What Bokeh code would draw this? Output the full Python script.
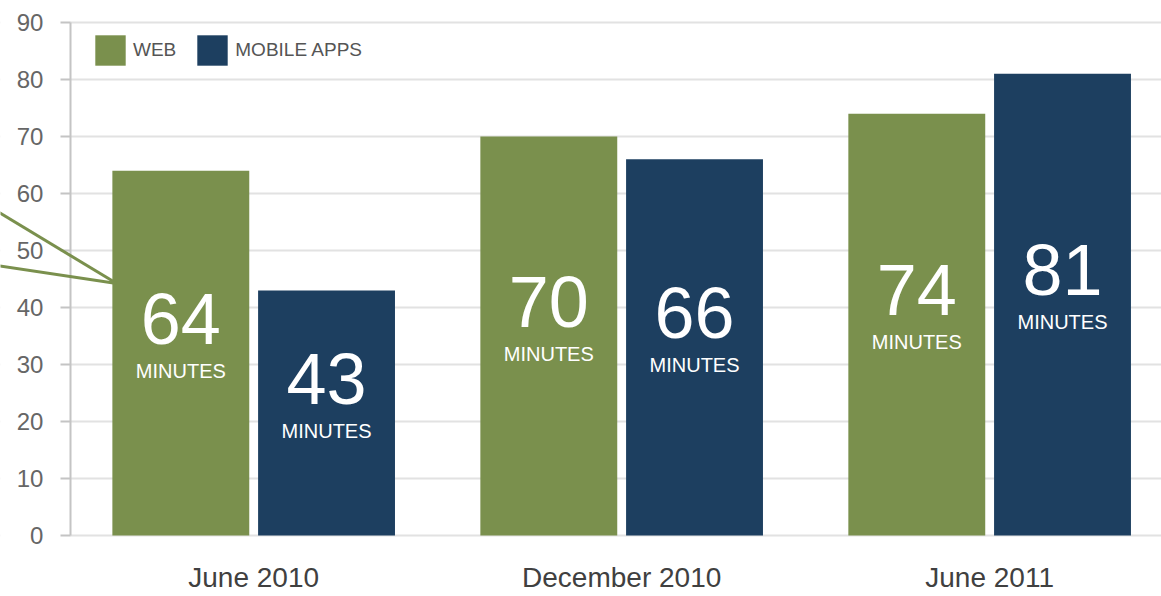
from bokeh.plotting import figure
from bokeh.models import ColumnDataSource, FixedTicker, Legend, LegendItem, Arrow, BoxAnnotation
from bokeh.transform import dodge
from bokeh.core.properties import value
from bokeh.embed import file_html
from bokeh.resources import INLINE

# ---- data ----
periods = ["June 2010", "December 2010", "June 2011"]
web_minutes = [64, 70, 74]
app_minutes = [43, 66, 81]
series_names = ["WEB", "MOBILE APPS"]
unit_label = "MINUTES"
y_ticks = [0, 10, 20, 30, 40, 50, 60, 70, 80, 90]
# callout pointer lines (x in category units, y in minutes)
callout_x = [[-0.70, -0.372], [-0.70, -0.372]]
callout_y = [[57.0, 44.2], [47.4, 44.2]]

FONT = "Liberation Sans"
GREEN = "#7a904d"
NAVY = "#1d3f60"
BAR_W = 0.372
OFF = 0.198
AXIS_X = -0.498

xs = list(range(len(periods)))

# frame spans 8px..548px vertically; 0 at 535px and 90 at 22px
p = figure(width=1161, height=596, x_range=(-0.688, 2.467), y_range=(-2.28, 92.46),
           output_backend="svg", toolbar_location=None,
           min_border_left=0, min_border_right=0, min_border_top=8, min_border_bottom=48)
p.outline_line_color = None
p.background_fill_color = "white"
p.border_fill_color = "white"

def label_y(v):
    return 6 + v / 2.0

src_web = ColumnDataSource(dict(x=xs, top=web_minutes, txt=[str(v) for v in web_minutes],
                                ly=[label_y(v) for v in web_minutes]))
src_app = ColumnDataSource(dict(x=xs, top=app_minutes, txt=[str(v) for v in app_minutes],
                                ly=[label_y(v) for v in app_minutes]))

# white mask hiding grid lines left of the axis
p.add_layout(BoxAnnotation(right=AXIS_X, fill_color="white", fill_alpha=1.0,
                           line_color=None, level="glyph"))

r_web = p.vbar(x=dodge("x", -OFF, range=p.x_range), top="top", bottom=0, width=BAR_W,
               source=src_web, fill_color=GREEN, line_color=None)
r_app = p.vbar(x=dodge("x", OFF, range=p.x_range), top="top", bottom=0, width=BAR_W,
               source=src_app, fill_color=NAVY, line_color=None)

for src, off in ((src_web, -OFF), (src_app, OFF)):
    p.text(x=dodge("x", off, range=p.x_range), y="ly", text="txt", source=src,
           text_align="center", text_baseline="middle", text_color="white",
           text_font=value(FONT), text_font_size="72px")
    p.text(x=dodge("x", off, range=p.x_range), y="ly", text=value(unit_label), source=src,
           y_offset=52, text_align="center", text_baseline="middle", text_color="white",
           text_font=value(FONT), text_font_size="20px")

for cx, cy in zip(callout_x, callout_y):
    p.add_layout(Arrow(end=None, x_start=cx[0], y_start=cy[0], x_end=cx[1], y_end=cy[1],
                       line_color=GREEN, line_width=3))

legend = Legend(items=[LegendItem(label=series_names[0], renderers=[r_web]),
                       LegendItem(label=series_names[1], renderers=[r_app])],
                orientation="horizontal", location=(91, 479),
                glyph_width=38, glyph_height=38, label_standoff=4, spacing=17,
                padding=0, margin=0, border_line_color=None, background_fill_alpha=0,
                label_text_font=FONT, label_text_font_size="19px", label_text_color="#555555")
p.add_layout(legend)

# y axis, drawn at a fixed location inside the frame
p.yaxis.fixed_location = AXIS_X
p.yaxis.bounds = (0, 90)
p.yaxis.ticker = FixedTicker(ticks=y_ticks)
p.yaxis.major_tick_out = 10
p.yaxis.major_tick_in = 0
p.yaxis.minor_tick_line_color = None
p.yaxis.axis_line_color = "#c4c4c4"
p.yaxis.axis_line_width = 2
p.yaxis.major_tick_line_color = "#c4c4c4"
p.yaxis.major_tick_line_width = 2
p.yaxis.major_label_text_font = FONT
p.yaxis.major_label_text_font_size = "24px"
p.yaxis.major_label_text_color = "#666666"
p.yaxis.major_label_standoff = 17

# x axis
p.xaxis.ticker = FixedTicker(ticks=xs)
p.xaxis.major_label_overrides = {i: periods[i] for i in xs}
p.xaxis.axis_line_color = None
p.xaxis.major_tick_line_color = None
p.xaxis.minor_tick_line_color = None
p.xaxis.major_tick_out = 0
p.xaxis.major_tick_in = 0
p.xaxis.major_label_text_font = FONT
p.xaxis.major_label_text_font_size = "28px"
p.xaxis.major_label_text_color = "#404040"
p.xaxis.major_label_standoff = 13

p.xgrid.grid_line_color = None
p.ygrid.grid_line_color = "#e2e2e2"
p.ygrid.grid_line_width = 2

open("out.html", "w").write(file_html(p, INLINE))
